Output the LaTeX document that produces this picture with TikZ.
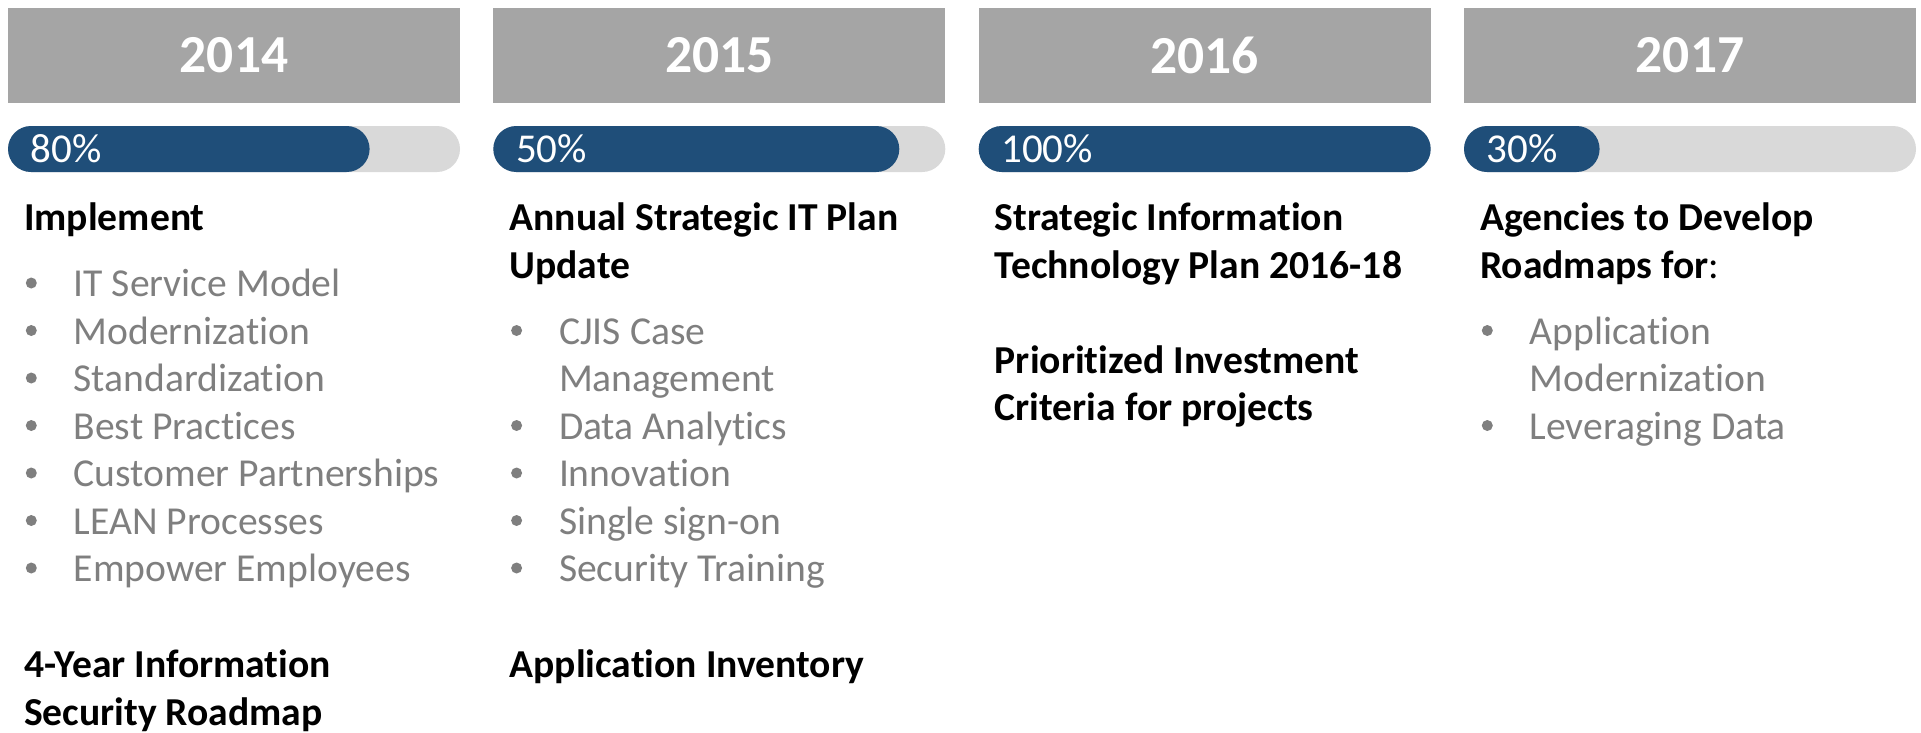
\documentclass[tikz,border=0pt]{standalone}
\usepackage{fontspec}
\setmainfont{Carlito}[Ligatures=NoCommon]
\definecolor{hdrgray}{HTML}{A5A5A5}
\definecolor{trackgray}{HTML}{D9D9D9}
\definecolor{progblue}{HTML}{1F4E79}
\definecolor{itemgray}{HTML}{7F7F7F}
\begin{document}
\begin{tikzpicture}[x=1pt,y=-1pt,
  hdrbox/.style={fill=hdrgray, draw=none, anchor=north west, inner sep=0pt, outer sep=0pt,
    minimum width=452pt, minimum height=95pt, text=white, font=\fontsize{53.5}{60}\selectfont\bfseries},
  trackbar/.style={fill=trackgray, draw=none, anchor=north west, inner sep=0pt, outer sep=0pt,
    minimum width=452pt, minimum height=46pt, rounded corners=23pt},
  progbar/.style={fill=progblue, draw=none, anchor=north west, inner sep=0pt, outer sep=0pt,
    minimum height=46pt, rounded corners=23pt},
  pct/.style={anchor=base west, inner sep=0pt, text=white, font=\fontsize{41}{48}\selectfont},
  head/.style={anchor=base west, inner sep=0pt, text=black, font=\fontsize{39.6}{47.5}\selectfont\bfseries},
  item/.style={anchor=base west, inner sep=0pt, text=itemgray, font=\fontsize{39.6}{47.5}\selectfont},
  bdot/.style={circle, fill=itemgray, draw=none, inner sep=0pt, minimum size=11pt}
]
\useasboundingbox (0,0) rectangle (1921,732);

% ---------- 2014 ----------
\node[hdrbox] (h1) at (8,8) {2014};
\node[trackbar] (t1) at (8,126) {};
\node[progbar, minimum width=361.6pt] (p1) at (8,126) {};
\node[pct] (q1) at (30.5,162) {80\%};
\node[head] (a1) at (24,230.5) {Implement};
\node[bdot] (d1a) at (31.3,283) {};   \node[item] (i1a) at (73.5,296.5) {IT Service Model};
\node[bdot] (d1b) at (31.3,330.5) {}; \node[item] (i1b) at (73.5,344) {Modernization};
\node[bdot] (d1c) at (31.3,378) {};   \node[item] (i1c) at (73.5,391.5) {Standardization};
\node[bdot] (d1d) at (31.3,425.5) {}; \node[item] (i1d) at (73.5,439) {Best Practices};
\node[bdot] (d1e) at (31.3,473) {};   \node[item] (i1e) at (73.5,486.5) {Customer Partnerships};
\node[bdot] (d1f) at (31.3,520.5) {}; \node[item] (i1f) at (73.5,534) {LEAN Processes};
\node[bdot] (d1g) at (31.3,568) {};   \node[item] (i1g) at (73.5,581.5) {Empower Employees};
\node[head] (b1a) at (24,677.5) {4-Year Information};
\node[head] (b1b) at (24,725) {Security Roadmap};

% ---------- 2015 ----------
\node[hdrbox] (h2) at (493.3,8) {2015};
\node[trackbar] (t2) at (493.3,126) {};
\node[progbar, minimum width=406pt] (p2) at (493.3,126) {};
\node[pct] (q2) at (515.8,162) {50\%};
\node[head] (a2a) at (509.3,230.5) {Annual Strategic IT Plan};
\node[head] (a2b) at (509.3,278) {Update};
\node[bdot] (d2a) at (516.6,330.5) {}; \node[item] (i2a) at (558.8,344) {CJIS Case};
                                       \node[item] (i2b) at (558.8,391.5) {Management};
\node[bdot] (d2c) at (516.6,425.5) {}; \node[item] (i2c) at (558.8,439) {Data Analytics};
\node[bdot] (d2d) at (516.6,473) {};   \node[item] (i2d) at (558.8,486.5) {Innovation};
\node[bdot] (d2e) at (516.6,520.5) {}; \node[item] (i2e) at (558.8,534) {Single sign-on};
\node[bdot] (d2f) at (516.6,568) {};   \node[item] (i2f) at (558.8,581.5) {Security Training};
\node[head] (b2) at (509.3,677.5) {Application Inventory};

% ---------- 2016 ----------
\node[hdrbox] (h3) at (978.7,8) {2016};
\node[trackbar] (t3) at (978.7,126) {};
\node[progbar, minimum width=452pt] (p3) at (978.7,126) {};
\node[pct] (q3) at (1001.2,162) {100\%};
\node[head] (a3a) at (994.7,230.5) {Strategic Information};
\node[head] (a3b) at (994.7,278) {Technology Plan 2016-18};
\node[head] (b3a) at (994.7,373) {Prioritized Investment};
\node[head] (b3b) at (994.7,420.5) {Criteria for projects};

% ---------- 2017 ----------
\node[hdrbox] (h4) at (1464,8) {2017};
\node[trackbar] (t4) at (1464,126) {};
\node[progbar, minimum width=135.6pt] (p4) at (1464,126) {};
\node[pct] (q4) at (1486.5,162) {30\%};
\node[head] (a4a) at (1480,230.5) {Agencies to Develop};
\node[head] (a4b) at (1480,278) {Roadmaps for\textmd{:}};
\node[bdot] (d4a) at (1487.3,330.5) {}; \node[item] (i4a) at (1529.5,344) {Application};
                                        \node[item] (i4b) at (1529.5,391.5) {Modernization};
\node[bdot] (d4c) at (1487.3,425.5) {}; \node[item] (i4c) at (1529.5,439) {Leveraging Data};
\end{tikzpicture}
\end{document}
